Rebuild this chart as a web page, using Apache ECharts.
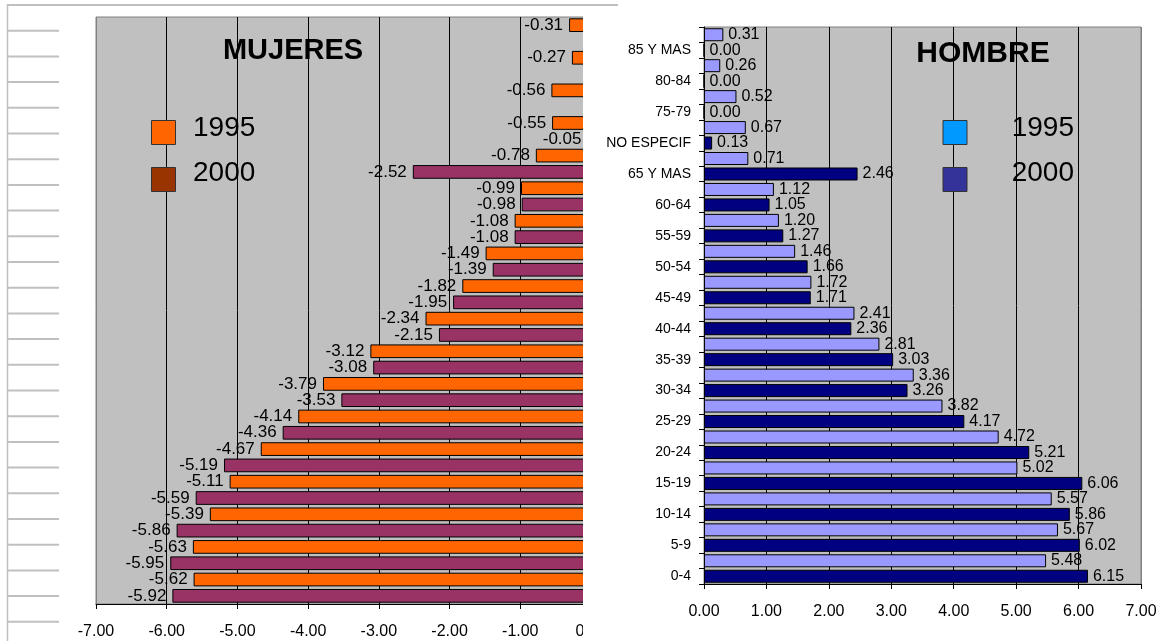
<!DOCTYPE html>
<html>
<head>
<meta charset="utf-8">
<script src="https://cdn.jsdelivr.net/npm/echarts@6/dist/echarts.min.js"></script>
<style>
  html, body { margin: 0; padding: 0; background: #fff; }
  #chart { width: 1162px; height: 641px; }
</style>
</head>
<body>
<div id="chart"></div>
<script>
// Age groups, oldest at the top
const ageGroups = ['85 Y MAS', '80-84', '75-79', 'NO ESPECIF', '65 Y MAS', '60-64', '55-59',
  '50-54', '45-49', '40-44', '35-39', '30-34', '25-29', '20-24', '15-19', '10-14', '5-9', '0-4'];

// Women (negative side), per age group
const women1995 = [-0.31, -0.27, -0.56, -0.55, -0.78, -0.99, -1.08, -1.49, -1.82, -2.34,
  -3.12, -3.79, -4.14, -4.67, -5.11, -5.39, -5.63, -5.62];
const women2000 = [null, null, null, -0.05, -2.52, -0.98, -1.08, -1.39, -1.95, -2.15,
  -3.08, -3.53, -4.36, -5.19, -5.59, -5.86, -5.95, -5.92];

// Men, per age group
const men1995 = [0.31, 0.26, 0.52, 0.67, 0.71, 1.12, 1.20, 1.46, 1.72, 2.41,
  2.81, 3.36, 3.82, 4.72, 5.02, 5.57, 5.67, 5.48];
const men2000 = [0.00, 0.00, 0.00, 0.13, 2.46, 1.05, 1.27, 1.66, 1.71, 2.36,
  3.03, 3.26, 4.17, 5.21, 6.06, 5.86, 6.02, 6.15];

const years = ['1995', '2000'];
const womenTicks = [-7, -6, -5, -4, -3, -2, -1, 0];
const menTicks = [0, 1, 2, 3, 4, 5, 6, 7];

// Each age group takes two rows: the 1995 row above, the 2000 row (labelled) below
const rows = ageGroups.flatMap(g => [g + '|' + years[0], g + '|' + years[1]]);
const spread = (vals, slot) => vals.flatMap(v => slot === 0 ? [v, null] : [null, v]);

const FONT = '"Liberation Sans", Arial, sans-serif';
const fmt = p => (p.value === null || p.value === undefined) ? '' : Number(p.value).toFixed(2);

function barSeries(name, data, slot, color, xi, labelPos, fontSize, dist) {
  return {
    name, type: 'bar', xAxisIndex: xi, yAxisIndex: xi, stack: 'p' + xi,
    data: spread(data, slot),
    barCategoryGap: '16%',
    itemStyle: { color, borderColor: '#000', borderWidth: 1 },
    label: {
      show: true, position: labelPos, distance: dist, formatter: fmt,
      color: '#000', fontFamily: FONT, fontSize
    },
    emphasis: { disabled: true },
    animation: false
  };
}

const splitColors = (n, greyIdx) => Array.from({ length: n }, (_, i) => i === greyIdx ? '#808080' : '#000');

const chart = echarts.init(document.getElementById('chart'), null, { renderer: 'canvas' });

// Spreadsheet cell lines down the left margin
const cellLines = [];
for (let k = 0; k < 25; k++) {
  const y = 5 + k * 25.7;
  cellLines.push({ type: 'line', z: 101, shape: { x1: 7, y1: y, x2: k === 0 ? 618 : 59, y2: y },
    style: { stroke: '#c0c0c0', lineWidth: 2 } });
}
cellLines.push({ type: 'line', z: 101, shape: { x1: 7.5, y1: 4, x2: 7.5, y2: 641 },
  style: { stroke: '#c0c0c0', lineWidth: 1.5 } });

function legendBlock(x, textX, align, c1, c2) {
  return [
    { type: 'rect', z: 110, shape: { x: x, y: 120.5, width: 24, height: 24 },
      style: { fill: c1, stroke: '#333', lineWidth: 1 } },
    { type: 'rect', z: 110, shape: { x: x, y: 167.5, width: 24, height: 24 },
      style: { fill: c2, stroke: '#333', lineWidth: 1 } },
    { type: 'text', z: 110, style: { x: textX, y: 128, text: years[0], fill: '#000',
      font: '28px ' + FONT, textAlign: align, textVerticalAlign: 'middle' } },
    { type: 'text', z: 110, style: { x: textX, y: 173, text: years[1], fill: '#000',
      font: '28px ' + FONT, textAlign: align, textVerticalAlign: 'middle' } }
  ];
}

chart.setOption({
  backgroundColor: '#fff',
  animation: false,
  grid: [
    { left: 96, top: 17, width: 495, height: 587, show: true, backgroundColor: '#c0c0c0',
      borderColor: '#808080', borderWidth: 1, containLabel: false },
    { left: 704, top: 27, width: 437, height: 557, show: true, backgroundColor: '#c0c0c0',
      borderColor: '#808080', borderWidth: 1, containLabel: false }
  ],
  xAxis: [
    { gridIndex: 0, type: 'value', min: womenTicks[0], max: womenTicks[womenTicks.length - 1], interval: 1,
      axisLine: { show: true, onZero: false, lineStyle: { color: '#000', width: 1 } },
      axisTick: { show: true, length: 5, lineStyle: { color: '#000' } },
      axisLabel: { formatter: v => v.toFixed(2), color: '#000', fontFamily: FONT, fontSize: 16, margin: 20 },
      splitLine: { show: true, lineStyle: { color: splitColors(womenTicks.length, 0), width: 1 } } },
    { gridIndex: 1, type: 'value', min: menTicks[0], max: menTicks[menTicks.length - 1], interval: 1,
      axisLine: { show: true, onZero: false, lineStyle: { color: '#000', width: 1 } },
      axisTick: { show: true, length: 5, lineStyle: { color: '#000' } },
      axisLabel: { formatter: v => v.toFixed(2), color: '#000', fontFamily: FONT, fontSize: 16, margin: 20 },
      splitLine: { show: true, lineStyle: { color: splitColors(menTicks.length, menTicks.length - 1), width: 1 } } }
  ],
  yAxis: [
    { gridIndex: 0, type: 'category', data: rows, inverse: true, position: 'right',
      axisLine: { show: true, lineStyle: { color: '#000' } },
      axisTick: { show: false }, axisLabel: { show: false } },
    { gridIndex: 1, type: 'category', data: rows, inverse: true, position: 'left',
      axisLine: { show: true, lineStyle: { color: '#000', width: 1 } },
      axisTick: { show: true, interval: 0, length: 5, lineStyle: { color: '#000' } },
      axisLabel: { interval: 0, margin: 13, color: '#000', fontFamily: FONT, fontSize: 14,
        formatter: v => v.endsWith('|' + years[1]) ? v.split('|')[0] : '' } }
  ],
  series: [
    barSeries(years[0], women1995, 0, '#ff6600', 0, 'left', 17, 6),
    barSeries(years[1], women2000, 1, '#993366', 0, 'left', 17, 6),
    barSeries(years[0], men1995, 0, '#9999ff', 1, 'right', 16, 5),
    barSeries(years[1], men2000, 1, '#000080', 1, 'right', 16, 5)
  ],
  graphic: [
    // the women panel runs past the page fold at its zero edge
    { type: 'rect', z: 100, shape: { x: 583, y: 0, width: 16, height: 641 }, style: { fill: '#fff' } },
    { type: 'rect', z: 100, shape: { x: 583, y: 612, width: 40, height: 29 }, style: { fill: '#fff' } },
    ...cellLines,
    { type: 'text', z: 110, style: { x: 293, y: 51, text: 'MUJERES', fill: '#000',
      font: 'bold 29px ' + FONT, textAlign: 'center', textVerticalAlign: 'middle' } },
    { type: 'text', z: 110, style: { x: 983, y: 54, text: 'HOMBRE', fill: '#000',
      font: 'bold 30px ' + FONT, textAlign: 'center', textVerticalAlign: 'middle' } },
    ...legendBlock(151.5, 193, 'left', '#ff6600', '#993300'),
    ...legendBlock(943, 1074, 'right', '#0099ff', '#333399')
  ]
});
</script>
</body>
</html>
